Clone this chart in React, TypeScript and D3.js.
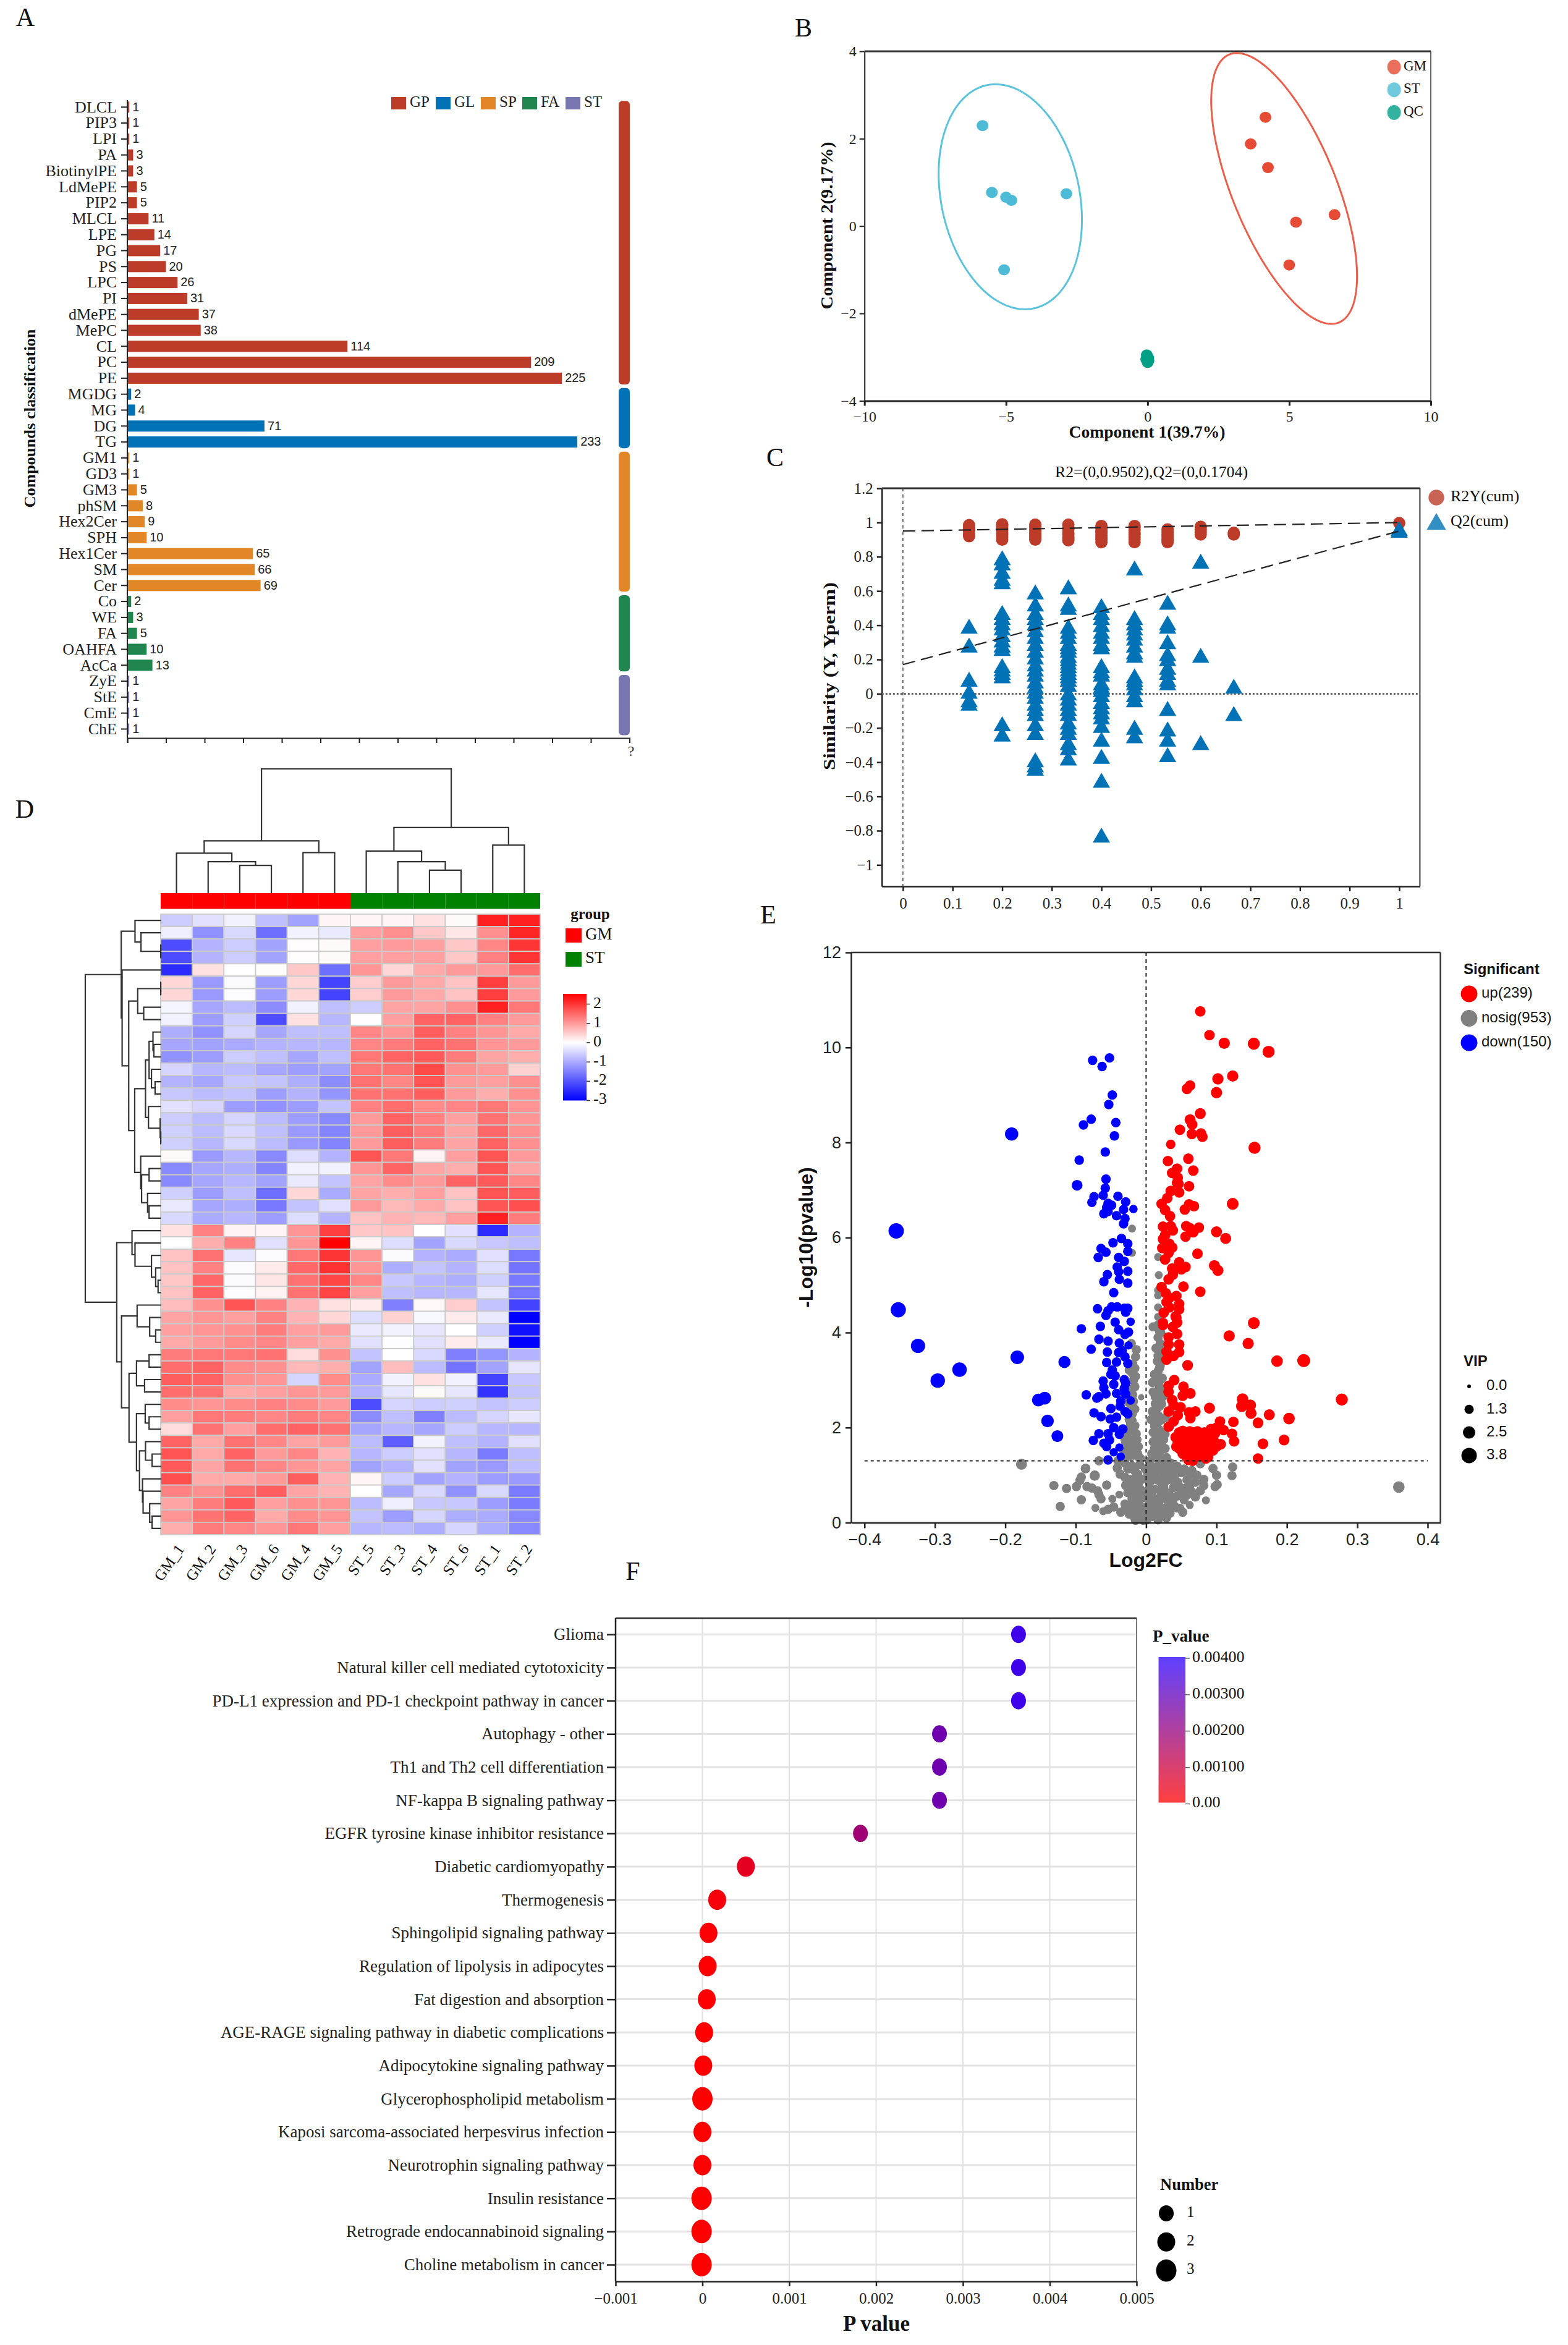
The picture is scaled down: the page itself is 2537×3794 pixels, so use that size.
import * as d3 from 'd3';
import React, { useEffect, useRef } from 'react';

const SERIF = '"Liberation Serif", serif';
const SANS = '"Liberation Sans", sans-serif';

// ---- A: compounds classification
const lipidClasses = ['DLCL', 'PIP3', 'LPI', 'PA', 'BiotinylPE', 'LdMePE', 'PIP2', 'MLCL', 'LPE', 'PG', 'PS', 'LPC', 'PI', 'dMePE', 'MePC', 'CL', 'PC', 'PE', 'MGDG', 'MG', 'DG', 'TG', 'GM1', 'GD3', 'GM3', 'phSM', 'Hex2Cer', 'SPH', 'Hex1Cer', 'SM', 'Cer', 'Co', 'WE', 'FA', 'OAHFA', 'AcCa', 'ZyE', 'StE', 'CmE', 'ChE'];
const lipidCounts = [1, 1, 1, 3, 3, 5, 5, 11, 14, 17, 20, 26, 31, 37, 38, 114, 209, 225, 2, 4, 71, 233, 1, 1, 5, 8, 9, 10, 65, 66, 69, 2, 3, 5, 10, 13, 1, 1, 1, 1];
const lipidGroupNames = ['GP', 'GL', 'SP', 'FA', 'ST'];
const lipidGroupSizes = [18, 4, 9, 5, 4];
const lipidGroupColors = ['#BC3C29', '#0072B5', '#E18727', '#20854E', '#7876B1'];
const countTicks = [0, 20, 40, 60, 80, 100, 120, 140, 160, 180, 200, 220, 240, 260];

// ---- B: PLS-DA scores
const gmScores = [[4.16, 2.49], [3.64, 1.88], [4.25, 1.34], [5.24, 0.09], [6.6, 0.26], [5.0, -0.89]];
const stScores = [[-5.83, 2.3], [-5.5, 0.77], [-5.0, 0.66], [-4.81, 0.59], [-2.87, 0.74], [-5.07, -1.0]];
const qcScores = [[-0.03, -2.95], [0.0, -3.0], [0.02, -3.02], [-0.05, -3.05], [0.03, -3.08], [0.0, -3.12]];
const scoreGroups = ['GM', 'ST', 'QC'];
const scoreColors = ['#E64B35', '#4DBBD5', '#00A087'];
// centre x, centre y, half width, half height, x offset of the top point over half width
const gmEllipse = [4.82, 0.86, 2.575, 3.1, -0.648];
const stEllipse = [-4.85, 0.67, 2.53, 2.575, -0.205];

// ---- C: permutation test
const permX = [0.1333, 0.2, 0.2667, 0.3333, 0.4, 0.4667, 0.5333, 0.6, 0.6667, 1];
const r2ByPerm = [
  [0.985, 0.97, 0.96, 0.945, 0.93, 0.92],
  [0.99, 0.98, 0.965, 0.955, 0.94, 0.93, 0.915, 0.9],
  [0.988, 0.975, 0.96, 0.945, 0.935, 0.92, 0.91, 0.9],
  [0.988, 0.97, 0.96, 0.94, 0.93, 0.915, 0.905, 0.896],
  [0.98, 0.965, 0.95, 0.94, 0.925, 0.91, 0.9, 0.885],
  [0.98, 0.97, 0.955, 0.94, 0.93, 0.915, 0.9, 0.885],
  [0.96, 0.945, 0.93, 0.92, 0.905, 0.895, 0.885],
  [0.975, 0.96, 0.945, 0.93],
  [0.94, 0.93],
  [0.997],
];
const q2ByPerm = [
  [0.38, 0.27, 0.07, 0.0, -0.05, -0.07],
  [0.78, 0.75, 0.7, 0.66, 0.64, 0.46, 0.43, 0.4, 0.37, 0.33, 0.3, 0.27, 0.25, 0.15, 0.13, 0.11, 0.09, -0.19, -0.25],
  [0.58, 0.51, 0.46, 0.43, 0.4, 0.36, 0.32, 0.28, 0.24, 0.2, 0.16, 0.13, 0.1, 0.06, 0.03, 0.0, -0.03, -0.07, -0.1, -0.13, -0.19, -0.24, -0.4, -0.43, -0.45],
  [0.61, 0.51, 0.49, 0.38, 0.35, 0.32, 0.28, 0.26, 0.24, 0.21, 0.19, 0.17, 0.15, 0.13, 0.11, 0.09, 0.07, 0.04, -0.01, -0.04, -0.07, -0.1, -0.13, -0.18, -0.21, -0.24, -0.3, -0.33, -0.39],
  [0.5, 0.46, 0.43, 0.39, 0.35, 0.32, 0.28, 0.26, 0.15, 0.12, 0.1, 0.05, 0.03, 0.01, -0.02, -0.06, -0.09, -0.12, -0.15, -0.2, -0.28, -0.38, -0.52, -0.84],
  [0.72, 0.43, 0.4, 0.37, 0.34, 0.31, 0.27, 0.23, 0.21, 0.09, 0.07, 0.05, 0.02, -0.02, -0.05, -0.21, -0.26],
  [0.52, 0.4, 0.38, 0.29, 0.22, 0.19, 0.14, 0.11, 0.07, 0.05, -0.1, -0.22, -0.28, -0.37],
  [0.76, 0.21, -0.3],
  [0.03, -0.13],
  [0.95, 0.94],
];
const r2Intercept = 0.9502;
const q2Intercept = 0.1704;
const q2End = 0.95;

// ---- D: heatmap
const heatSamples = ['GM_1', 'GM_2', 'GM_3', 'GM_6', 'GM_4', 'GM_5', 'ST_5', 'ST_3', 'ST_4', 'ST_6', 'ST_1', 'ST_2'];
const heatValues = [
  [-0.6, -0.35, -0.15, -0.75, -1.1, 0.1, 0.1, 0.1, 0.3, 0.05, 2.2, 2.2],
  [-0.2, -1.3, -0.45, -1.7, -0.15, -0.25, 0.95, 1.1, 0.55, 0.25, 1.1, 2.15],
  [-2.1, -0.9, -0.6, -1.1, 0.02, 0.05, 0.95, 1.0, 0.95, 0.55, 1.2, 2.0],
  [-2.1, -0.9, -0.6, -1.1, 0.02, 0.05, 0.95, 0.95, 0.95, 0.55, 1.25, 2.0],
  [-2.5, 0.3, 0, 0.03, 0.55, -1.7, 1.05, 0.4, 0.85, 1.0, 1.0, 1.45],
  [0.4, -1.2, -0.05, -1.15, 0.4, -2.2, 0.5, 1.0, 0.85, 0.6, 1.9, 1.0],
  [0.4, -1.2, -0.02, -1.15, 0.4, -2.2, 0.5, 1.0, 0.85, 0.6, 1.9, 1.0],
  [-0.12, -1.05, -0.8, -1.35, -0.15, -0.75, -0.6, 0.9, 0.9, 1.1, 2.2, 1.35],
  [-0.15, -1.15, -0.55, -2.1, 0.3, -0.85, 0.02, 0.95, 1.55, 1.55, 1.25, 1.0],
  [-0.95, -1.3, -0.5, -1.05, -0.75, -0.75, 1.2, 1.05, 1.6, 1.25, 1.05, 0.85],
  [-1.05, -1.1, -1.0, -0.9, -0.85, -0.85, 1.2, 1.3, 1.55, 1.4, 1.05, 1.0],
  [-1.3, -1.15, -0.6, -0.75, -1.05, -0.75, 1.35, 1.55, 1.65, 1.3, 0.9, 0.8],
  [-0.5, -0.85, -0.8, -1.05, -1.15, -1.1, 1.35, 1.4, 1.8, 1.1, 1.0, 0.45],
  [-0.9, -1.05, -0.65, -0.7, -0.95, -1.35, 1.4, 1.2, 1.7, 1.0, 0.95, 1.1],
  [-0.65, -0.8, -0.7, -1.15, -0.9, -1.25, 1.4, 1.4, 1.6, 1.0, 0.8, 1.1],
  [-0.35, -0.5, -1.15, -1.3, -1.15, -0.7, 1.25, 1.45, 1.15, 1.2, 1.35, 1.05],
  [-0.6, -0.8, -0.5, -0.8, -1.15, -1.4, 1.0, 1.55, 1.25, 0.95, 1.4, 1.05],
  [-0.55, -0.8, -0.45, -0.75, -1.2, -1.45, 1.0, 1.6, 1.3, 0.9, 1.5, 1.1],
  [-0.55, -0.85, -0.45, -0.8, -1.2, -1.45, 1.0, 1.6, 1.3, 0.9, 1.55, 1.1],
  [0.05, -1.2, -0.85, -1.4, -0.4, -0.9, 1.7, 1.35, 0.1, 0.95, 1.7, 1.0],
  [-1.4, -1.05, -0.95, -1.45, -0.15, -0.15, 1.05, 1.55, 0.9, 0.8, 1.7, 0.9],
  [-1.4, -1.05, -0.85, -1.1, -0.25, -0.7, 0.9, 1.15, 1.0, 1.55, 1.65, 1.2],
  [-0.55, -1.15, -0.75, -1.7, 0.4, -1.0, 0.9, 0.8, 0.95, 0.6, 1.7, 1.6],
  [-0.25, -1.05, -0.95, -1.6, -0.7, -0.35, 1.0, 0.7, 0.85, 0.6, 1.7, 1.75],
  [-0.45, -1.0, -0.85, -1.15, -0.4, -0.9, 0.6, 0.75, 0.7, 0.95, 2.2, 1.3],
  [0.3, 1.25, 0.12, 0.1, 1.05, 1.9, 0.55, 0.6, 0, -0.35, -2.5, -0.9],
  [0, 0.8, 1.25, -0.35, 1.05, 2.53, 0.1, -0.4, -1.1, -0.45, -0.65, -0.75],
  [0.6, 1.4, -0.3, -0.03, 1.35, 2.0, 1.05, -0.05, -0.9, -1.0, -0.35, -1.6],
  [0.6, 1.25, -0.03, 0.2, 1.5, 2.05, 1.05, -0.95, -0.7, -0.9, -0.4, -1.65],
  [0.55, 1.5, -0.05, 0.25, 1.4, 1.85, 1.2, -0.65, -0.85, -0.95, -0.55, -1.6],
  [0.6, 1.55, -0.02, 0.12, 1.4, 1.85, 0.95, -0.75, -0.85, -0.85, -0.3, -1.6],
  [0.65, 1.1, 1.7, 1.25, 0.75, 0.3, 0.2, -1.5, 0.07, 0.5, -0.7, -2.2],
  [0.9, 1.05, 0.95, 1.25, 0.75, 0.4, -0.4, 0.45, -0.08, 0.2, -0.25, -3],
  [0.95, 1.05, 1.1, 1.3, 0.95, 1.0, -0.25, -0.15, -0.3, 0, -0.55, -2.8],
  [0.85, 1.0, 1.15, 1.2, 0.95, 0.85, -0.35, -0.02, -0.35, 0.2, -0.25, -3],
  [1.3, 1.35, 1.35, 1.4, 0.35, 1.1, -0.7, 0, -0.45, -1.5, -1.25, -0.9],
  [1.45, 1.55, 1.15, 1.1, 0.7, 0.8, -1.1, 0.65, -0.8, -1.65, -1.1, -0.3],
  [1.6, 1.55, 1.1, 1.05, -0.5, 1.15, -1.0, -0.15, 0.3, -0.15, -2.2, -0.65],
  [1.45, 1.4, 0.85, 0.95, 1.05, 1.0, -0.9, -0.3, 0.05, -0.3, -2.4, -0.7],
  [1.15, 1.05, 1.15, 1.25, 1.15, 1.0, -2.1, -0.5, -0.6, -0.55, -0.7, -0.6],
  [0.95, 1.35, 1.3, 1.2, 1.3, 1.2, -1.35, -0.75, -1.5, -0.8, -0.5, -0.3],
  [0.35, 1.4, 0.95, 1.45, 1.55, 1.4, -1.05, -0.85, -1.05, -0.6, -0.85, -0.85],
  [1.55, 0.85, 1.4, 1.2, 0.9, 1.0, -0.8, -1.9, -0.15, -0.75, -0.9, -0.35],
  [1.7, 0.85, 1.55, 1.0, 1.2, 0.75, -0.85, -0.6, -0.35, -0.85, -1.55, -0.75],
  [1.65, 0.9, 1.4, 1.2, 1.05, 0.9, -1.1, -0.9, -0.35, -1.1, -1.2, -0.75],
  [1.75, 0.85, 0.85, 1.0, 1.6, 0.75, 0.1, -0.6, -1.1, -0.9, -1.15, -1.2],
  [1.25, 1.1, 1.45, 1.6, 0.9, 0.75, 0, -1.05, -0.45, -1.3, -0.45, -1.55],
  [0.9, 1.3, 1.65, 0.95, 1.1, 1.05, -0.8, -0.2, -0.65, -0.65, -1.15, -1.55],
  [1.05, 1.4, 1.55, 0.85, 1.15, 1.05, -0.7, -1.15, -0.5, -0.95, -1.0, -1.4],
  [0.8, 1.3, 1.2, 1.05, 1.35, 0.95, -0.85, -0.8, -0.95, -0.5, -0.95, -1.4],
];
// merge height, then the two branches; a plain number is a leaf index
const colTree: any = [233, [98, [75, 0, [59, 1, [52, 2, 3]]], [76, 4, 5]], [123, [79, 6, [59, 7, [43, 8, 9]]], [90, 10, 11]]];
const rowTree: any = [253,
  [133,
    [87, 0, [67, 1, [1, 2, 3]]],
    [130, 4,
      [108,
        [78, [1, 5, 6], [58, 7, 8]],
        [88,
          [52,
            [40, [27, 9, [24, 10, 11]], [32, 12, [20, 13, 14]]],
            [42, 15, [3, 16, [1, 17, 18]]]],
          [68, 19, [65, [40, 20, 21], [45, 22, [40, 23, 24]]]]]]]],
  [148,
    [97, 25, [87, 26, [32, 27, [18, 28, [10, 29, 30]]]]],
    [132,
      [80, 31, [38, 32, [18, 33, 34]]],
      [107,
        [82, [40, 35, 36], [55, 37, 38]],
        [82,
          [53, 39, [40, 40, 41]],
          [72, [52, 42, [30, 43, 44]], [62, 45, [60, 46, [38, 47, [30, 48, 49]]]]]]]]]];
const heatLegendTicks = [2, 1, 0, -1, -2, -3];

// ---- E: volcano, [log2FC, -log10(p), VIP]
const upPoints = [
  [0.077, 10.76], [0.09, 10.26], [0.111, 10.09, 2.1], [0.153, 10.08, 2.4], [0.174, 9.91, 2.4], [0.123, 9.4, 2.1], [0.102, 9.34, 2.1], [0.0625, 9.2], [0.058, 9.13], [0.1, 9.05, 2.1],
  [0.077, 8.61, 2], [0.0625, 8.48, 2], [0.0655, 8.38], [0.048, 8.27], [0.065, 8.18], [0.078, 8.19], [0.08, 8.12], [0.035, 7.96, 1.4], [0.154, 7.89, 2.4], [0.06, 7.66],
  [0.031, 7.61], [0.044, 7.45], [0.067, 7.41], [0.037, 7.36], [0.045, 7.26], [0.044, 7.15], [0.046, 7.13], [0.061, 7.08], [0.035, 6.98], [0.047, 6.95], [0.03, 6.83],
  [0.022, 6.71], [0.123, 6.71, 2.3], [0.061, 6.7], [0.068, 6.66], [0.055, 6.59], [0.027, 6.58], [0.034, 6.45], [0.024, 6.23], [0.035, 6.24], [0.038, 6.15], [0.057, 6.24],
  [0.062, 6.2], [0.067, 6.11], [0.075, 6.21], [0.1, 6.12, 2], [0.113, 5.98, 2], [0.027, 6.05], [0.024, 5.97], [0.056, 6.02], [0.033, 5.87], [0.037, 5.79], [0.023, 5.78],
  [0.032, 5.68], [0.073, 5.66], [0.027, 5.54], [0.047, 5.48], [0.097, 5.41, 2], [0.102, 5.31, 2], [0.056, 5.38], [0.037, 5.35], [0.05, 5.33], [0.038, 5.22], [0.032, 5.12],
  [0.053, 4.97], [0.022, 4.96], [0.077, 4.86], [0.028, 4.83], [0.033, 4.73], [0.043, 4.77], [0.029, 4.64], [0.047, 4.6], [0.033, 4.53], [0.047, 4.49], [0.025, 4.42],
  [0.043, 4.31], [0.024, 4.2], [0.153, 4.2, 2.3], [0.042, 4.34], [0.044, 4.21], [0.024, 4.16], [0.038, 4.12], [0.118, 3.93, 2.1], [0.044, 3.97], [0.032, 3.9], [0.145, 3.77, 2.1],
  [0.047, 3.75], [0.032, 3.75], [0.029, 3.6], [0.047, 3.59], [0.039, 3.51], [0.029, 3.43], [0.186, 3.4, 2.2], [0.224, 3.41, 2.8], [0.059, 3.31, 1.9], [0.04, 3.0], [0.032, 2.88],
  [0.053, 2.86], [0.032, 2.75], [0.063, 2.72], [0.052, 2.67], [0.037, 2.58], [0.278, 2.59, 2.4], [0.137, 2.6, 2.2], [0.148, 2.47, 2.2], [0.136, 2.45, 2.2], [0.09, 2.41, 2],
  [0.039, 2.47], [0.049, 2.43], [0.032, 2.34], [0.07, 2.34], [0.061, 2.32], [0.149, 2.3, 2], [0.175, 2.27, 2], [0.203, 2.19, 2.2], [0.045, 2.26], [0.063, 2.2], [0.159, 2.1, 1.9],
  [0.124, 2.12], [0.105, 2.13], [0.039, 2.13], [0.032, 2.02], [0.092, 1.97], [0.11, 1.95], [0.1, 2.0], [0.122, 1.87], [0.125, 1.71], [0.196, 1.74, 1.9], [0.166, 1.66, 1.9],
  [0.106, 1.65], [0.159, 1.35, 1.8], [0.042, 1.8], [0.047, 1.9], [0.052, 1.93], [0.057, 1.9], [0.062, 1.92], [0.068, 1.9], [0.073, 1.92], [0.078, 1.88], [0.083, 1.9],
  [0.088, 1.85], [0.093, 1.82], [0.098, 1.88], [0.045, 1.7], [0.05, 1.75], [0.055, 1.72], [0.06, 1.78], [0.066, 1.74], [0.071, 1.76], [0.076, 1.7], [0.082, 1.74], [0.087, 1.68],
  [0.092, 1.72], [0.097, 1.7], [0.043, 1.6], [0.048, 1.55], [0.053, 1.62], [0.058, 1.58], [0.064, 1.6], [0.069, 1.55], [0.074, 1.6], [0.079, 1.56], [0.085, 1.58], [0.09, 1.55],
  [0.095, 1.52], [0.1, 1.6], [0.052, 1.45], [0.057, 1.4], [0.062, 1.48], [0.067, 1.42], [0.072, 1.46], [0.077, 1.4], [0.083, 1.44], [0.088, 1.38], [0.06, 1.32], [0.066, 1.3], [0.085, 1.35],
];
const downPoints = [
  [-0.076, 9.73], [-0.052, 9.78], [-0.0625, 9.6], [-0.048, 9.0], [-0.053, 8.8], [-0.078, 8.49], [-0.089, 8.37], [-0.043, 8.42], [-0.045, 8.14], [-0.191, 8.18, 2.9], [-0.058, 7.8],
  [-0.095, 7.63], [-0.057, 7.23], [-0.098, 7.1, 1.9], [-0.058, 7.04], [-0.061, 6.89], [-0.074, 6.86], [-0.077, 6.74], [-0.04, 6.87], [-0.029, 6.75], [-0.054, 6.72], [-0.049, 6.68],
  [-0.056, 6.63], [-0.06, 6.5], [-0.054, 6.55], [-0.018, 6.6, 1.1], [-0.032, 6.59], [-0.042, 6.46], [-0.03, 6.4], [-0.032, 6.29], [-0.355, 6.14, 3.8], [-0.035, 5.98], [-0.047, 5.89],
  [-0.026, 5.87], [-0.064, 5.77], [-0.057, 5.69], [-0.026, 5.71], [-0.068, 5.58], [-0.039, 5.58], [-0.031, 5.5], [-0.041, 5.38], [-0.026, 5.29], [-0.039, 5.28], [-0.055, 5.22],
  [-0.06, 5.07], [-0.038, 5.12], [-0.026, 5.04], [-0.046, 4.84], [-0.352, 4.48, 3.7], [-0.069, 4.5], [-0.049, 4.54], [-0.041, 4.54], [-0.031, 4.51], [-0.026, 4.51], [-0.029, 4.43],
  [-0.054, 4.46], [-0.057, 4.36], [-0.044, 4.22], [-0.022, 4.23, 1.1], [-0.065, 4.13], [-0.092, 4.08], [-0.039, 4.06], [-0.025, 4.01], [-0.03, 3.96], [-0.067, 3.86], [-0.054, 3.82],
  [-0.038, 3.78], [-0.025, 3.73, 1.1], [-0.324, 3.72, 3.3], [-0.078, 3.65], [-0.055, 3.59], [-0.039, 3.58], [-0.034, 3.62], [-0.03, 3.49], [-0.183, 3.48, 3], [-0.116, 3.38, 2.4],
  [-0.056, 3.37], [-0.042, 3.38], [-0.026, 3.35], [-0.265, 3.22, 3.4], [-0.048, 3.21], [-0.05, 3.12], [-0.044, 3.09], [-0.296, 2.99, 3.4], [-0.061, 2.98], [-0.031, 3.01], [-0.029, 2.93],
  [-0.046, 2.91], [-0.06, 2.84], [-0.031, 2.82], [-0.057, 2.71], [-0.042, 2.72], [-0.085, 2.69], [-0.029, 2.71], [-0.07, 2.62], [-0.067, 2.65], [-0.144, 2.62, 2.7], [-0.153, 2.58, 2.7],
  [-0.022, 2.57, 1.1], [-0.036, 2.56], [-0.05, 2.4], [-0.037, 2.45], [-0.074, 2.31], [-0.03, 2.34], [-0.026, 2.29], [-0.064, 2.23], [-0.051, 2.18], [-0.042, 2.22], [-0.14, 2.14, 2.6],
  [-0.046, 2.0], [-0.033, 1.97], [-0.038, 1.86], [-0.067, 1.87], [-0.054, 1.87], [-0.126, 1.82, 2.3], [-0.075, 1.73], [-0.052, 1.74], [-0.06, 1.67], [-0.056, 1.6], [-0.038, 1.58, 1.1],
  [-0.046, 1.48, 1.1], [-0.036, 1.39, 1.1], [-0.054, 1.32],
];
const nosigPoints = [
  [-0.02, 6.19, 1], [-0.02, 5.68, 1], [0.017, 5.59, 1], [0.018, 5.21, 1], [0.017, 4.89, 1], [0.017, 4.78, 1], [0.017, 4.53, 1], [0.017, 4.33, 1],
  [0.01, 4.12], [0.017, 4.16], [0.019, 4.03], [0.017, 3.9], [0.02, 3.77], [0.014, 3.67], [0.022, 3.6], [0.017, 3.51], [0.019, 3.25], [0.012, 3.12], [0.017, 3.19], [0.023, 3.04],
  [0.009, 2.95], [0.019, 2.86], [0.017, 2.73], [0.024, 2.65], [0.019, 2.56], [0.009, 2.34], [0.017, 2.26], [0.022, 2.17], [0.012, 2.04], [0.019, 1.95], [0.027, 1.87], [0.014, 1.78],
  [0.022, 1.69], [0.012, 1.56], [0.027, 1.56], [0.017, 1.43], [0.029, 1.37], [0.007, 2.17], [0.027, 2.21], [0.019, 2.45], [0.013, 2.5], [0.015, 2.05], [0.02, 1.8],
  [-0.021, 3.77], [-0.014, 3.64], [-0.015, 3.49], [-0.019, 3.34], [-0.024, 3.21], [-0.015, 3.08], [-0.016, 2.86], [-0.019, 2.69], [-0.007, 2.64, 0.6], [-0.024, 2.52], [-0.016, 2.39],
  [-0.024, 2.17], [-0.016, 2.04], [-0.029, 1.91], [-0.014, 1.87], [-0.021, 1.74], [-0.029, 1.69], [-0.011, 1.6], [-0.021, 1.48], [-0.011, 1.39], [-0.026, 1.56], [-0.02, 2.28], [-0.022, 2.0],
  [-0.177, 1.23, 2], [0.359, 0.75, 2.2], [-0.067, 1.3], [-0.086, 1.14, 1.5], [-0.073, 0.99, 1.7], [-0.092, 0.96], [-0.094, 0.89], [-0.131, 0.78], [-0.099, 0.76], [-0.113, 0.72], [-0.084, 0.76],
  [-0.077, 0.73], [-0.056, 0.79], [-0.069, 0.67], [-0.067, 0.59], [-0.064, 0.5], [-0.092, 0.48], [-0.122, 0.34], [-0.072, 0.31, 1], [-0.061, 0.24, 1], [-0.048, 0.5, 1], [-0.054, 0.28], [-0.046, 0.33],
  [-0.038, 0.59, 1], [-0.041, 1.15], [-0.037, 1.02], [-0.026, 1.13], [-0.024, 0.91], [-0.016, 1.09], [-0.029, 0.78], [-0.021, 0.7], [-0.026, 0.63], [-0.011, 0.78], [-0.014, 0.56], [-0.03, 0.39],
  [-0.011, 0.43], [-0.036, 0.22], [-0.024, 0.18], [-0.019, 0.26], [-0.016, 0.09], [-0.009, 0.22], [-0.004, 0.05], [-0.006, 0.33], [-0.006, 0.91], [-0.009, 1.22], [-0.001, 1.13], [-0.012, 1.02], [-0.005, 0.6],
  [0.009, 1.17], [0.019, 1.22], [0.012, 1.0], [0.024, 1.09], [0.034, 1.26], [0.044, 1.19], [0.054, 1.13], [0.062, 1.0], [0.077, 1.24], [0.095, 1.14], [0.123, 1.17], [0.122, 0.99], [0.1, 1.0],
  [0.082, 0.91], [0.101, 0.8], [0.098, 0.76], [0.082, 0.78], [0.07, 0.85], [0.062, 0.78], [0.077, 0.67], [0.07, 0.54], [0.085, 0.47, 1], [0.062, 0.37, 1], [0.047, 0.76], [0.034, 0.91], [0.039, 0.74],
  [0.022, 0.82], [0.012, 0.7], [0.029, 0.63], [0.044, 0.56], [0.054, 0.48], [0.019, 0.52], [0.012, 0.39], [0.032, 0.37], [0.044, 0.31], [0.034, 0.2], [0.022, 0.24], [0.009, 0.13], [0.017, 0.06],
  [0.001, 0.06], [0.029, 0.1], [0.027, 0.31], [0.004, 0.7], [0.004, 0.91], [0.005, 0.4], [0.015, 1.1], [0.03, 1.05], [0.05, 0.65],
  [-0.03, 1.75], [-0.027, 1.85], [-0.025, 1.95], [-0.022, 2.08], [-0.02, 2.15], [-0.018, 1.95], [-0.025, 1.63], [-0.03, 1.5], [-0.017, 1.7], [-0.015, 1.55], [-0.025, 1.4], [-0.018, 1.42], [-0.013, 1.75],
  [-0.02, 2.4], [-0.024, 2.6], [-0.018, 2.55], [-0.022, 2.8], [-0.018, 3.0], [-0.02, 3.15], [-0.016, 3.25], [-0.012, 1.45], [-0.008, 1.35], [-0.034, 1.35], [-0.04, 1.3], [-0.03, 1.25], [-0.02, 1.2],
  [0.016, 3.4], [0.018, 3.45], [0.02, 3.3], [0.015, 3.05], [0.016, 2.95], [0.02, 2.8], [0.013, 2.65], [0.022, 2.5], [0.015, 2.4], [0.018, 2.12], [0.013, 2.0], [0.01, 1.9], [0.016, 1.85], [0.025, 1.75],
  [0.01, 1.7], [0.018, 1.6], [0.02, 1.5], [0.008, 1.45], [0.015, 1.35], [0.023, 1.3], [0.03, 1.25], [0.005, 1.3], [0.012, 2.3], [0.01, 2.75], [0.02, 3.0], [0.021, 4.0],
  [-0.015, 0.95], [-0.02, 0.85], [-0.03, 0.95], [-0.008, 0.7], [-0.015, 0.65], [-0.02, 0.5], [-0.008, 0.5], [-0.012, 0.35], [-0.02, 0.38], [-0.025, 0.3], [-0.03, 0.28], [-0.012, 0.15], [-0.006, 0.1], [-0.015, 0.05], [-0.003, 0.2],
  [0.002, 1.0], [0.005, 0.85], [0.008, 0.6], [0.01, 0.5], [0.002, 0.5], [0.003, 0.3], [0.006, 0.2], [0.012, 0.25], [0.015, 0.3], [0.012, 0.5], [0.018, 0.42], [0.02, 0.68], [0.025, 0.75], [0.028, 0.5], [0.033, 0.6],
  [0.038, 0.47], [0.04, 0.35], [0.048, 0.3], [0.052, 0.22], [0.035, 0.28], [0.025, 0.15], [0.015, 0.12], [0.007, 1.05], [0.015, 0.9], [0.023, 0.95], [0.028, 0.88], [0.04, 0.95], [0.045, 0.85], [0.055, 0.72],
  [0.06, 0.6], [0.065, 0.65], [0.058, 0.9], [0.05, 1.05], [0.04, 1.1], [0.03, 1.15], [0.065, 1.1], [0.072, 1.0],
];
const volcanoGroups = ['up(239)', 'nosig(953)', 'down(150)'];
const volcanoColors = ['#FF0000', '#808080', '#0000FF'];
const vipLegend = [0, 1.3, 2.5, 3.8];

// ---- F: pathway enrichment
const pathways = ['Glioma', 'Natural killer cell mediated cytotoxicity', 'PD-L1 expression and PD-1 checkpoint pathway in cancer', 'Autophagy - other', 'Th1 and Th2 cell differentiation', 'NF-kappa B signaling pathway', 'EGFR tyrosine kinase inhibitor resistance', 'Diabetic cardiomyopathy', 'Thermogenesis', 'Sphingolipid signaling pathway', 'Regulation of lipolysis in adipocytes', 'Fat digestion and absorption', 'AGE-RAGE signaling pathway in diabetic complications', 'Adipocytokine signaling pathway', 'Glycerophospholipid metabolism', 'Kaposi sarcoma-associated herpesvirus infection', 'Neurotrophin signaling pathway', 'Insulin resistance', 'Retrograde endocannabinoid signaling', 'Choline metabolism in cancer'];
const pathwayP = [0.00364, 0.00364, 0.00364, 0.00273, 0.00273, 0.00273, 0.00182, 0.0005, 0.00017, 0.00007, 0.00006, 0.00005, 0.00002, 0.00001, 0, 0, 0, -0.00001, -0.00001, -0.00001];
const pathwayNumber = [1, 1, 1, 1, 1, 1, 1, 2, 2, 2, 2, 2, 2, 2, 3, 2, 2, 3, 3, 3];
const pTicks = [-0.001, 0, 0.001, 0.002, 0.003, 0.004, 0.005];
const pLegendLabels = ['0.00400', '0.00300', '0.00200', '0.00100', '0.00'];
const numberLegend = [1, 2, 3];

const panelLetters: [string, number, number][] = [['A', 41, 46], ['B', 1300, 63], ['C', 1254, 758], ['D', 40, 1327], ['E', 1243, 1498], ['F', 1024, 2560]];

type Sel = d3.Selection<any, any, any, any>;

const put = (g: Sel, s: string, x: number, y: number, size: number, opts: any = {}) => {
  const t = g.append('text').attr('x', x).attr('y', y).text(s)
    .attr('font-family', opts.family || SERIF).attr('font-size', size)
    .attr('fill', opts.fill || '#111')
    .attr('text-anchor', opts.anchor || 'start')
    .attr('dominant-baseline', 'middle');
  if (opts.bold) t.attr('font-weight', 'bold');
  if (opts.length) t.attr('textLength', opts.length).attr('lengthAdjust', 'spacingAndGlyphs');
  if (opts.rotate) t.attr('transform', `rotate(${opts.rotate} ${x} ${y})`);
  return t;
};

const styleAxis = (g: Sel, family: string, size: number, width = 2, color = '#222') => {
  g.attr('font-family', family).attr('font-size', size);
  g.selectAll('text').attr('fill', color);
  g.selectAll('line').attr('stroke', color).attr('stroke-width', width);
  g.selectAll('path').attr('stroke', color).attr('stroke-width', width);
};

const minus = (v: number) => String(v).replace('-', '\u2212');

const drawBars = (svg: Sel) => {
  const g = svg.append('g');
  const x = d3.scaleLinear().domain([0, 260]).range([206, 1018.5]);
  const y = d3.scaleBand().domain(lipidClasses).range([160.4, 1192.4]).paddingInner(0.3).paddingOuter(0.15);
  const groupOf: number[] = [];
  lipidGroupSizes.forEach((n, i) => d3.range(n).forEach(() => groupOf.push(i)));

  g.selectAll('rect.bar').data(lipidClasses).enter().append('rect').attr('class', 'bar')
    .attr('x', x(0)).attr('y', (d) => y(d)!)
    .attr('width', (_, i) => x(lipidCounts[i]) - x(0)).attr('height', y.bandwidth())
    .attr('fill', (_, i) => lipidGroupColors[groupOf[i]]);
  lipidClasses.forEach((c, i) => {
    put(g, String(lipidCounts[i]), x(lipidCounts[i]) + 5, y(c)! + y.bandwidth() / 2 + 1, 20, { family: SANS, fill: '#222' });
  });

  const left = g.append('g').attr('transform', 'translate(206,0)').call(d3.axisLeft(y).tickSize(10).tickPadding(7).tickSizeOuter(0));
  styleAxis(left, SERIF, 26);
  left.select('.domain').attr('d', 'M0,162V1194');
  const bottom = g.append('g').attr('transform', 'translate(0,1194)')
    .call(d3.axisBottom(x).tickValues(countTicks).tickSize(8).tickFormat(() => ''));
  styleAxis(bottom, SERIF, 20);
  put(g, 'Compounds classification', 51, 677, 26, { bold: true, anchor: 'middle', rotate: -90, length: 289 });

  // group strip on the right
  let start = 0;
  lipidGroupSizes.forEach((n, i) => {
    const top = y(lipidClasses[start])!;
    const end = y(lipidClasses[start + n - 1])! + y.bandwidth();
    g.append('rect').attr('x', 1001).attr('y', top - 1).attr('width', 18).attr('height', end - top + 2).attr('rx', 6)
      .attr('fill', lipidGroupColors[i]);
    start += n;
  });

  const legendX = [633, 705, 778, 845, 915];
  lipidGroupNames.forEach((n, i) => {
    g.append('rect').attr('x', legendX[i]).attr('y', 157).attr('width', 24).attr('height', 20).attr('fill', lipidGroupColors[i]);
    put(g, n, legendX[i] + 30, 167, 25, { fill: '#222' });
  });
  // clipped tick label at the end of the axis
  put(g, '?', 1021, 1217, 24, { anchor: 'middle', fill: '#333' });
};

const drawScores = (svg: Sel) => {
  const g = svg.append('g');
  const x = d3.scaleLinear().domain([-10, 10]).range([1398.7, 2315]);
  const y = d3.scaleLinear().domain([-4, 4]).range([648.5, 83]);
  const axB = g.append('g').attr('transform', 'translate(0,648.5)')
    .call(d3.axisBottom(x).ticks(5).tickSize(8).tickPadding(8).tickSizeOuter(0).tickFormat((d: any) => minus(d)));
  styleAxis(axB, SERIF, 24, 3);
  const axL = g.append('g').attr('transform', 'translate(1398.7,0)')
    .call(d3.axisLeft(y).ticks(5).tickSize(8).tickPadding(5).tickSizeOuter(0).tickFormat((d: any) => minus(d)));
  styleAxis(axL, SERIF, 24, 2);
  g.append('line').attr('x1', 1398.7).attr('x2', 2315).attr('y1', 83).attr('y2', 83).attr('stroke', '#333').attr('stroke-width', 3);
  g.append('line').attr('x1', 2315).attr('x2', 2315).attr('y1', 83).attr('y2', 648.5).attr('stroke', '#333').attr('stroke-width', 1.5);

  const line = d3.line<number>().curve(d3.curveLinearClosed);
  const ellipses = [gmEllipse, stEllipse];
  ellipses.forEach((e, i) => {
    const phi = Math.acos(e[4]);
    const path = line.x((t) => x(e[0] + e[2] * Math.cos(t))).y((t) => y(e[1] + e[3] * Math.cos(t + phi)))(d3.range(0, 2 * Math.PI, 0.04));
    g.append('path').attr('d', path).attr('fill', 'none').attr('stroke', i === 0 ? '#E8604C' : '#5CC3DA').attr('stroke-width', 3);
  });

  [gmScores, stScores, qcScores].forEach((pts, i) => {
    g.selectAll(null).data(pts).enter().append('ellipse')
      .attr('cx', (d) => x(d[0])).attr('cy', (d) => y(d[1])).attr('rx', 9.5).attr('ry', 9)
      .attr('fill', scoreColors[i]);
  });
  scoreGroups.forEach((n, i) => {
    const ly = 108.5 + i * 36.7;
    g.append('ellipse').attr('cx', 2255.6).attr('cy', ly).attr('rx', 11).attr('ry', 12).attr('fill', scoreColors[i]).attr('fill-opacity', 0.8);
    put(g, n, 2271, ly, 23);
  });
  put(g, 'Component 1(39.7%)', 1856, 702, 28, { bold: true, anchor: 'middle', length: 253 });
  put(g, 'Component 2(9.17%)', 1341, 365, 27, { bold: true, anchor: 'middle', rotate: -90, length: 271 });
};

const drawPermutation = (svg: Sel) => {
  const g = svg.append('g');
  const x = d3.scaleLinear().domain([-0.0425, 1.0417]).range([1426.8, 2297.4]);
  const y = d3.scaleLinear().domain([-1.125, 1.2]).range([1434, 790]);
  const axB = g.append('g').attr('transform', 'translate(0,1434)')
    .call(d3.axisBottom(x).tickValues(d3.range(0, 11).map((d) => d / 10)).tickSize(8).tickPadding(10).tickSizeOuter(0).tickFormat((d: any) => minus(d)));
  styleAxis(axB, SERIF, 25, 2.5);
  const axL = g.append('g').attr('transform', 'translate(1426.8,0)')
    .call(d3.axisLeft(y).tickValues(d3.range(-5, 7).map((d) => d / 5)).tickSize(8).tickPadding(6).tickSizeOuter(0).tickFormat((d: any) => minus(d)));
  styleAxis(axL, SERIF, 25, 2.5);
  g.append('line').attr('x1', 1426.8).attr('x2', 2297.4).attr('y1', 790).attr('y2', 790).attr('stroke', '#333').attr('stroke-width', 3);
  g.append('line').attr('x1', 2297.4).attr('x2', 2297.4).attr('y1', 790).attr('y2', 1434).attr('stroke', '#333').attr('stroke-width', 2);

  g.append('line').attr('x1', x(0)).attr('x2', x(0)).attr('y1', 790).attr('y2', 1434).attr('stroke', '#444').attr('stroke-width', 1.5).attr('stroke-dasharray', '5 5');
  g.append('line').attr('x1', 1426.8).attr('x2', 2297.4).attr('y1', y(0)).attr('y2', y(0)).attr('stroke', '#666').attr('stroke-width', 3).attr('stroke-dasharray', '3 3');

  permX.forEach((px, i) => {
    g.selectAll(null).data(r2ByPerm[i]).enter().append('circle')
      .attr('cx', x(px)).attr('cy', (d) => y(d)).attr('r', 10).attr('fill', '#BC3C29');
    g.selectAll(null).data(q2ByPerm[i]).enter().append('path')
      .attr('d', d3.symbol().type(d3.symbolTriangle).size(340)())
      .attr('transform', (d) => `translate(${x(px)},${y(d)})`).attr('fill', '#0072B5');
  });
  g.append('line').attr('x1', x(0)).attr('x2', x(1)).attr('y1', y(r2Intercept)).attr('y2', y(1))
    .attr('stroke', '#222').attr('stroke-width', 2.2).attr('stroke-dasharray', '20 10');
  g.append('line').attr('x1', x(0)).attr('x2', x(1)).attr('y1', y(q2Intercept)).attr('y2', y(q2End))
    .attr('stroke', '#222').attr('stroke-width', 2.2).attr('stroke-dasharray', '20 10');

  put(g, 'R2=(0,0.9502),Q2=(0,0.1704)', 1863, 766, 26, { anchor: 'middle', length: 312 });
  g.append('circle').attr('cx', 2324).attr('cy', 805).attr('r', 12.7).attr('fill', '#BC3C29').attr('fill-opacity', 0.8);
  g.append('path').attr('d', d3.symbol().type(d3.symbolTriangle).size(420)())
    .attr('transform', 'translate(2324,848)').attr('fill', '#0072B5').attr('fill-opacity', 0.8);
  put(g, 'R2Y(cum)', 2347, 805, 26);
  put(g, 'Q2(cum)', 2347, 845, 26);
  put(g, 'Similarity (Y, Yperm)', 1345, 1094, 27, { bold: true, anchor: 'middle', rotate: -90, length: 304 });
};

const drawHeat = (svg: Sel, defs: Sel) => {
  const g = svg.append('g');
  const x = d3.scaleBand().domain(heatSamples).range([260, 874]);
  const rows = d3.range(heatValues.length);
  const y = d3.scaleBand<number>().domain(rows).range([1479, 2483]);
  const color = d3.scaleLinear<string>().domain([-3, 0, 2.53]).range(['#0000FF', '#FFFFFF', '#FF0000']);

  heatValues.forEach((row, r) => {
    g.selectAll(null).data(row).enter().append('rect')
      .attr('x', (_, c) => x(heatSamples[c])!).attr('y', y(r)!)
      .attr('width', x.bandwidth()).attr('height', y.bandwidth())
      .attr('fill', (d) => color(d)).attr('stroke', '#CBCBCB').attr('stroke-width', 1.8);
  });

  // dendrograms
  const colH = d3.scaleLinear().domain([0, 233]).range([1445, 1244]);
  const rowH = d3.scaleLinear().domain([0, 253]).range([260.6, 138]);
  const walk = (node: any, leaf: (i: number) => number, seg: (a: number, ha: number, b: number, hb: number, h: number) => void): [number, number] => {
    if (typeof node === 'number') return [leaf(node), 0];
    const [pa, ha] = walk(node[1], leaf, seg);
    const [pb, hb] = walk(node[2], leaf, seg);
    seg(pa, ha, pb, hb, node[0]);
    return [(pa + pb) / 2, node[0]];
  };
  const colPath = d3.path();
  walk(colTree, (i) => x(heatSamples[i])! + x.bandwidth() / 2, (a, ha, b, hb, h) => {
    colPath.moveTo(a, colH(ha)); colPath.lineTo(a, colH(h)); colPath.lineTo(b, colH(h)); colPath.lineTo(b, colH(hb));
  });
  g.append('path').attr('d', colPath.toString()).attr('fill', 'none').attr('stroke', '#333').attr('stroke-width', 2.2);
  const rowPath = d3.path();
  walk(rowTree, (i) => y(i)! + y.bandwidth() / 2, (a, ha, b, hb, h) => {
    rowPath.moveTo(rowH(ha), a); rowPath.lineTo(rowH(h), a); rowPath.lineTo(rowH(h), b); rowPath.lineTo(rowH(hb), b);
  });
  g.append('path').attr('d', rowPath.toString()).attr('fill', 'none').attr('stroke', '#333').attr('stroke-width', 2.2);

  // annotation bar
  g.selectAll(null).data(heatSamples).enter().append('rect')
    .attr('x', (d) => x(d)!).attr('y', 1445).attr('width', x.bandwidth()).attr('height', 25.5)
    .attr('fill', (d) => (d.startsWith('GM') ? '#FF0000' : '#008000'));

  heatSamples.forEach((s) => {
    const cx = x(s)! + x.bandwidth() / 2 + 9;
    put(g, s, cx, 2503, 25, { anchor: 'end', rotate: -55 });
  });

  put(g, 'group', 955, 1481, 25, { bold: true, anchor: 'middle' });
  g.append('rect').attr('x', 915).attr('y', 1502).attr('width', 26).attr('height', 23).attr('fill', '#FF0000');
  g.append('rect').attr('x', 915).attr('y', 1540).attr('width', 26).attr('height', 24).attr('fill', '#008000');
  put(g, 'GM', 947, 1514, 27);
  put(g, 'ST', 947, 1552, 27);

  const grad = defs.append('linearGradient').attr('id', 'heatGrad').attr('x1', 0).attr('x2', 0).attr('y1', 0).attr('y2', 1);
  [2.53, 0, -3].forEach((v) => {
    grad.append('stop').attr('offset', (2.53 - v) / 5.53).attr('stop-color', color(v));
  });
  const legY = d3.scaleLinear().domain([-3, 2.53]).range([1780.5, 1608]);
  g.append('rect').attr('x', 911).attr('y', 1608).attr('width', 38).attr('height', 172.5).attr('fill', 'url(#heatGrad)');
  heatLegendTicks.forEach((t) => {
    g.append('line').attr('x1', 949).attr('x2', 955).attr('y1', legY(t)).attr('y2', legY(t)).attr('stroke', '#333').attr('stroke-width', 1.5);
    put(g, String(t), 960, legY(t), 26);
  });
};

const drawVolcano = (svg: Sel) => {
  const g = svg.append('g');
  const x = d3.scaleLinear().domain([-0.4191, 0.4181]).range([1377, 2330.6]);
  const y = d3.scaleLinear().domain([0, 12]).range([2463.5, 1541]);
  const r = d3.scaleLinear().domain(vipLegend).range([3, 7.5, 10, 12.5]);

  const sets: [number[][], string, number][] = [
    [nosigPoints, volcanoColors[1], 1.3],
    [upPoints, volcanoColors[0], 1.8],
    [downPoints, volcanoColors[2], 1.4],
  ];
  sets.forEach(([pts, fill, dv]) => {
    g.selectAll(null).data(pts).enter().append('circle')
      .attr('cx', (d) => x(d[0])).attr('cy', (d) => y(d[1])).attr('r', (d) => r(d[2] ?? dv)).attr('fill', fill);
  });

  g.append('line').attr('x1', x(0)).attr('x2', x(0)).attr('y1', 1541).attr('y2', 2463.5).attr('stroke', '#222').attr('stroke-width', 2).attr('stroke-dasharray', '6 5');
  g.append('line').attr('x1', x(-0.4)).attr('x2', x(0.4)).attr('y1', y(1.3)).attr('y2', y(1.3)).attr('stroke', '#222').attr('stroke-width', 2).attr('stroke-dasharray', '5 5');

  const axB = g.append('g').attr('transform', 'translate(0,2463.5)')
    .call(d3.axisBottom(x).ticks(8).tickSize(9).tickPadding(8).tickSizeOuter(0).tickFormat((d: any) => minus(d)));
  styleAxis(axB, SANS, 27, 2.5);
  const axL = g.append('g').attr('transform', 'translate(1377,0)')
    .call(d3.axisLeft(y).ticks(6).tickSize(9).tickPadding(7).tickSizeOuter(0));
  styleAxis(axL, SANS, 27, 2.5);
  g.append('line').attr('x1', 1377).attr('x2', 2330.6).attr('y1', 1541).attr('y2', 1541).attr('stroke', '#333').attr('stroke-width', 2.5);
  g.append('line').attr('x1', 2330.6).attr('x2', 2330.6).attr('y1', 1541).attr('y2', 2463.5).attr('stroke', '#333').attr('stroke-width', 2.5);

  put(g, 'Log2FC', 1854, 2527, 32, { family: SANS, bold: true, anchor: 'middle' });
  put(g, '-Log10(pvalue)', 1306.6, 2002, 32, { family: SANS, bold: true, anchor: 'middle', rotate: -90 });

  put(g, 'Significant', 2368, 1570, 24, { family: SANS, bold: true });
  volcanoGroups.forEach((n, i) => {
    const ly = 1608 + i * 39.5;
    g.append('circle').attr('cx', 2377).attr('cy', ly).attr('r', 13.5).attr('fill', volcanoColors[i]);
    put(g, n, 2397, ly, 24, { family: SANS });
  });
  put(g, 'VIP', 2368, 2204, 24, { family: SANS, bold: true });
  vipLegend.forEach((v, i) => {
    const ly = 2243 + i * 37.3;
    g.append('circle').attr('cx', 2377).attr('cy', ly).attr('r', r(v)).attr('fill', '#000');
    put(g, v.toFixed(1), 2405, ly, 24, { family: SANS });
  });
};

const drawPathways = (svg: Sel, defs: Sel) => {
  const g = svg.append('g');
  const x = d3.scaleLinear().domain([-0.001, 0.005]).range([996, 1839]);
  const y = d3.scalePoint().domain(pathways).range([2644.3, 3664]);
  const color = d3.scaleLinear<string>().domain([0, 0.004]).range(['#FF0000', '#2A00FF']);
  const rx = d3.scaleOrdinal<number, number>().domain(numberLegend).range([12, 14.5, 16.5]);
  const ry = d3.scaleOrdinal<number, number>().domain(numberLegend).range([14, 16.5, 19]);

  pTicks.forEach((t) => {
    g.append('line').attr('x1', x(t)).attr('x2', x(t)).attr('y1', 2618).attr('y2', 3691).attr('stroke', '#E2E2E2').attr('stroke-width', 2);
  });
  pathways.forEach((p) => {
    g.append('line').attr('x1', 996).attr('x2', 1839).attr('y1', y(p)!).attr('y2', y(p)!).attr('stroke', '#E2E2E2').attr('stroke-width', 3);
  });
  g.selectAll(null).data(pathways).enter().append('ellipse')
    .attr('cx', (_, i) => x(pathwayP[i])).attr('cy', (d) => y(d)!)
    .attr('rx', (_, i) => rx(pathwayNumber[i])).attr('ry', (_, i) => ry(pathwayNumber[i]))
    .attr('fill', (_, i) => color(pathwayP[i]));

  const axL = g.append('g').attr('transform', 'translate(996,0)').call(d3.axisLeft(y).tickSize(14).tickPadding(5).tickSizeOuter(0));
  styleAxis(axL, SERIF, 27, 2.5);
  axL.select('.domain').attr('d', 'M0,2618V3691');
  const axB = g.append('g').attr('transform', 'translate(0,3691)')
    .call(d3.axisBottom(x).tickValues(pTicks).tickSize(8).tickPadding(10).tickSizeOuter(0)
      .tickFormat((d: any) => (d === 0 ? '0' : minus(d.toFixed(3)))));
  styleAxis(axB, SERIF, 25, 2.5);
  g.append('line').attr('x1', 996).attr('x2', 1839).attr('y1', 2618).attr('y2', 2618).attr('stroke', '#333').attr('stroke-width', 2.5);
  g.append('line').attr('x1', 1839).attr('x2', 1839).attr('y1', 2618).attr('y2', 3691).attr('stroke', '#555').attr('stroke-width', 1.5);

  put(g, 'P value', 1418, 3763, 35, { bold: true, anchor: 'middle' });
  put(g, 'P_value', 1865, 2650, 27, { bold: true });
  const grad = defs.append('linearGradient').attr('id', 'pGrad').attr('x1', 0).attr('x2', 0).attr('y1', 0).attr('y2', 1);
  grad.append('stop').attr('offset', 0).attr('stop-color', '#2A00FF').attr('stop-opacity', 0.75);
  grad.append('stop').attr('offset', 1).attr('stop-color', '#FF0000').attr('stop-opacity', 0.75);
  g.append('rect').attr('x', 1874.5).attr('y', 2681).attr('width', 43.5).attr('height', 235.5).attr('fill', 'url(#pGrad)');
  pLegendLabels.forEach((l, i) => {
    const ly = 2683 + (i * 235.5) / 4;
    g.append('line').attr('x1', 1918).attr('x2', 1925).attr('y1', ly).attr('y2', ly).attr('stroke', '#666').attr('stroke-width', 1.5);
    put(g, l, 1929, ly, 26);
  });
  put(g, 'Number', 1877, 3537, 26.5, { bold: true });
  numberLegend.forEach((n, i) => {
    const ly = 3581 + i * 46.3;
    g.append('ellipse').attr('cx', 1887).attr('cy', ly).attr('rx', rx(n)).attr('ry', ry(n) - 1).attr('fill', '#000');
    put(g, String(n), 1920, ly, 25);
  });
};

const App = () => {
  const svgRef = useRef<SVGSVGElement>(null);

  useEffect(() => {
    const svg = d3.select(svgRef.current);
    svg.selectAll('*').remove();
    const defs = svg.append('defs');

    panelLetters.forEach(([l, x, y]) => put(svg, l, x, y - 14, 42, { anchor: 'middle', fill: '#111' }));
    drawBars(svg);
    drawScores(svg);
    drawPermutation(svg);
    drawHeat(svg, defs);
    drawVolcano(svg);
    drawPathways(svg, defs);
  }, []);

  return (
    <svg
      ref={svgRef}
      width={2537}
      height={3794}
      style={{ position: 'absolute', left: 0, top: 0, background: '#fff', display: 'block' }}
    />
  );
};

export default App;
